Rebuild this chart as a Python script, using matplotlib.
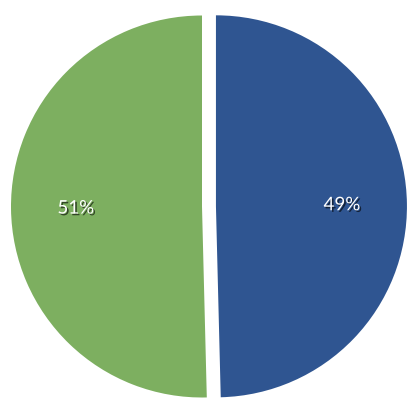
import matplotlib
matplotlib.use("Agg")
import matplotlib.pyplot as plt
import matplotlib.patheffects as pe

labels = ["49%", "51%"]
values = [49.6, 50.4]
colors = ["#2f5591", "#7daf60"]
explode = [0.073, 0]

fig = plt.figure(figsize=(4.15, 4.15), dpi=100)
ax = fig.add_axes([0, 0, 1, 1])

wedges, texts, autotexts = ax.pie(
    values, colors=colors, explode=explode, startangle=90,
    counterclock=False, radius=1.0, autopct="%1.0f%%", pctdistance=0.66,
    wedgeprops=dict(linewidth=0),
    textprops=dict(color="white", fontsize=13.5, family=["Lato", "DejaVu Sans"]),
)
for t, lab in zip(autotexts, labels):
    t.set_text(lab)
    t.set_path_effects([pe.withSimplePatchShadow(offset=(1.2, -1.2), shadow_rgbFace="black", alpha=0.6)])

# keep the scale at ~191 px per unit, green centre at (202, 206.5) px
s = 191.0
ax.set_xlim(-202 / s, (415 - 202) / s)
ax.set_ylim(-(415 - 206.5) / s, 206.5 / s)
ax.set_aspect("auto")
ax.axis("off")

fig.savefig("out.png", dpi=100)
